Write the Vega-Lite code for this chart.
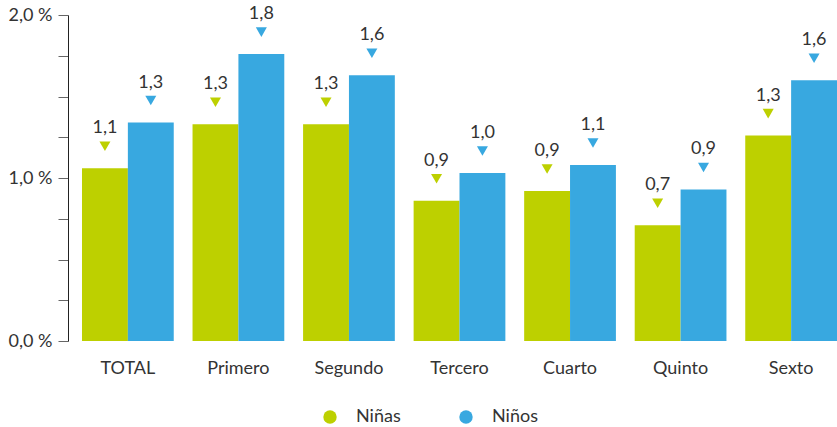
{
  "$schema": "https://vega.github.io/schema/vega-lite/v6.json",
  "width": 769,
  "height": 326,
  "autosize": "none",
  "padding": {"left": 68, "top": 15, "right": 0, "bottom": 86},
  "config": {
    "locale": {"number": {"decimal": ",", "thousands": ".", "grouping": [3], "currency": ["", " €"]}},
    "view": {"stroke": null},
    "font": "Lato"
  },
  "data": {
    "values": [
      {"curso": "TOTAL", "sexo": "Niñas", "valor": 1.06},
      {"curso": "TOTAL", "sexo": "Niños", "valor": 1.34},
      {"curso": "Primero", "sexo": "Niñas", "valor": 1.33},
      {"curso": "Primero", "sexo": "Niños", "valor": 1.76},
      {"curso": "Segundo", "sexo": "Niñas", "valor": 1.33},
      {"curso": "Segundo", "sexo": "Niños", "valor": 1.63},
      {"curso": "Tercero", "sexo": "Niñas", "valor": 0.86},
      {"curso": "Tercero", "sexo": "Niños", "valor": 1.03},
      {"curso": "Cuarto", "sexo": "Niñas", "valor": 0.92},
      {"curso": "Cuarto", "sexo": "Niños", "valor": 1.08},
      {"curso": "Quinto", "sexo": "Niñas", "valor": 0.71},
      {"curso": "Quinto", "sexo": "Niños", "valor": 0.93},
      {"curso": "Sexto", "sexo": "Niñas", "valor": 1.26},
      {"curso": "Sexto", "sexo": "Niños", "valor": 1.6}
    ]
  },
  "encoding": {
    "x": {
      "field": "curso",
      "type": "nominal",
      "sort": ["TOTAL", "Primero", "Segundo", "Tercero", "Cuarto", "Quinto", "Sexto"],
      "scale": {"paddingInner": 0.17, "paddingOuter": 0.0633, "align": 1},
      "axis": {
        "title": null,
        "domain": false,
        "ticks": false,
        "labelAngle": 0,
        "labelFontSize": 18,
        "labelColor": "#333333",
        "labelPadding": 27,
        "labelBaseline": "middle"
      }
    },
    "xOffset": {"field": "sexo", "type": "nominal", "sort": ["Niñas", "Niños"]},
    "y": {
      "field": "valor",
      "type": "quantitative",
      "scale": {"domain": [0, 2], "nice": false},
      "axis": {
        "title": null,
        "grid": false,
        "values": [0, 0.25, 0.5, 0.75, 1, 1.25, 1.5, 1.75, 2],
        "format": ".1f",
        "labelExpr": "datum.value % 1 === 0 ? datum.label + ' %' : ''",
        "labelFontSize": 18,
        "labelColor": "#333333",
        "labelPadding": 6,
        "tickSize": 10,
        "tickColor": "#666666",
        "domainColor": "#222222",
        "labelBound": false
      }
    }
  },
  "layer": [
    {
      "mark": {"type": "bar"},
      "encoding": {
        "color": {
          "field": "sexo",
          "type": "nominal",
          "sort": ["Niñas", "Niños"],
          "scale": {"domain": ["Niñas", "Niños"], "range": ["#BDD000", "#38A8E0"]},
          "legend": {
            "orient": "none",
            "legendX": 253,
            "legendY": 393,
            "direction": "horizontal",
            "title": null,
            "symbolType": "circle",
            "symbolSize": 180,
            "symbolStrokeWidth": 0,
            "labelFontSize": 18,
            "labelColor": "#333333",
            "labelOffset": 17,
            "columnPadding": 56
          }
        }
      }
    },
    {
      "mark": {"type": "point", "shape": "triangle-down", "filled": true, "size": 121, "yOffset": -22, "opacity": 1},
      "encoding": {
        "color": {"field": "sexo", "type": "nominal", "sort": ["Niñas", "Niños"]}
      }
    },
    {
      "mark": {"type": "text", "dy": -35, "baseline": "alphabetic", "fontSize": 18, "color": "#333333"},
      "encoding": {
        "text": {"field": "valor", "type": "quantitative", "format": ".1f"}
      }
    }
  ]
}
